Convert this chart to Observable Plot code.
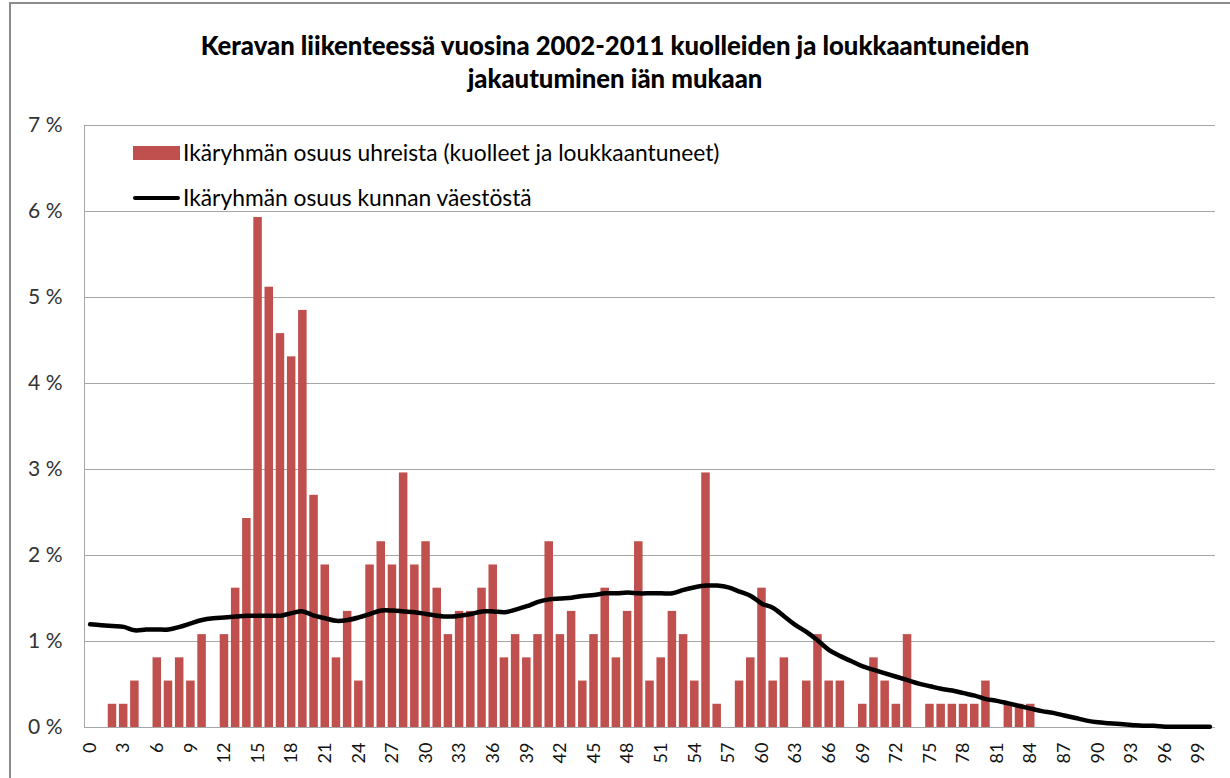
<!DOCTYPE html>
<html><head><meta charset="utf-8">
<script src="https://cdn.jsdelivr.net/npm/d3@7"></script>
<script src="https://cdn.jsdelivr.net/npm/@observablehq/plot@0.6"></script>
<style>
body{margin:0;background:#fff;width:1230px;height:778px;overflow:hidden;position:relative;font-family:Lato,"Open Sans",sans-serif;color:#000}
#border{position:absolute;left:9px;top:2px;width:1300px;height:900px;border-left:2px solid #8c8c8c;border-top:2px solid #8c8c8c}
#title{position:absolute;left:0;top:29px;width:1230px;text-align:center;font-weight:900;font-size:25.7px;line-height:33px;color:#000}
#chart{position:absolute;left:0;top:110px}
.sw{position:absolute;left:133px;width:47px}
.lt{position:absolute;left:183px;font-size:22.8px;line-height:26px;white-space:nowrap;color:#000}
</style></head>
<body>
<div id="border"></div>
<div id="title">Keravan liikenteessä vuosina 2002-2011 kuolleiden ja loukkaantuneiden<br>jakautuminen iän mukaan</div>
<div id="chart"></div>
<div class="sw" style="top:146px;height:14px;background:#C0504D"></div>
<div class="lt" style="top:139px">Ikäryhmän osuus uhreista (kuolleet ja loukkaantuneet)</div>
<div class="sw" style="top:196px;height:4px;background:#000;border-radius:2px"></div>
<div class="lt" style="top:184px">Ikäryhmän osuus kunnan väestöstä</div>
<script>
const ages = [0,1,2,3,4,5,6,7,8,9,10,11,12,13,14,15,16,17,18,19,20,21,22,23,24,25,26,27,28,29,30,31,32,33,34,35,36,37,38,39,40,41,42,43,44,45,46,47,48,49,50,51,52,53,54,55,56,57,58,59,60,61,62,63,64,65,66,67,68,69,70,71,72,73,74,75,76,77,78,79,80,81,82,83,84,85,86,87,88,89,90,91,92,93,94,95,96,97,98,99,100];

// Share of victims (killed and injured), %
const victimShare = [
  0,0,0.27,0.27,0.54,0,0.81,0.54,0.81,0.54,
  1.08,0,1.08,1.62,2.43,5.93,5.12,4.58,4.31,4.85,
  2.70,1.89,0.81,1.35,0.54,1.89,2.16,1.89,2.96,1.89,
  2.16,1.62,1.08,1.35,1.35,1.62,1.89,0.81,1.08,0.81,
  1.08,2.16,1.08,1.35,0.54,1.08,1.62,0.81,1.35,2.16,
  0.54,0.81,1.35,1.08,0.54,2.96,0.27,0,0.54,0.81,
  1.62,0.54,0.81,0,0.54,1.08,0.54,0.54,0,0.27,
  0.81,0.54,0.27,1.08,0,0.27,0.27,0.27,0.27,0.27,
  0.54,0,0.27,0.27,0.27,0,0,0,0,0,
  0,0,0,0,0,0,0,0,0,0,0];

// Share of municipal population, %
const populationShare = [
  1.20,1.19,1.18,1.17,1.13,1.14,1.14,1.14,1.17,1.21,
  1.25,1.27,1.28,1.29,1.30,1.30,1.30,1.30,1.33,1.35,
  1.30,1.27,1.24,1.25,1.28,1.32,1.36,1.36,1.35,1.34,
  1.32,1.30,1.29,1.30,1.32,1.35,1.35,1.34,1.37,1.41,
  1.46,1.49,1.50,1.51,1.53,1.54,1.56,1.56,1.57,1.56,
  1.56,1.56,1.56,1.60,1.63,1.65,1.65,1.63,1.58,1.53,
  1.44,1.39,1.29,1.19,1.11,1.01,0.90,0.83,0.77,0.71,
  0.67,0.63,0.59,0.55,0.51,0.48,0.45,0.43,0.40,0.37,
  0.33,0.31,0.28,0.25,0.22,0.19,0.17,0.14,0.11,0.08,
  0.06,0.05,0.04,0.03,0.02,0.02,0.01,0.01,0.01,0.01,0.01];

const xTicks = [0,3,6,9,12,15,18,21,24,27,30,33,36,39,42,45,48,51,54,57,60,63,66,69,72,75,78,81,84,87,90,93,96,99];
const yTicks = [0,1,2,3,4,5,6,7];

const rows = ages.map((a, i) => ({age: a, victims: victimShare[i], population: populationShare[i]}));

const chart = Plot.plot({
  width: 1230,
  height: 668,
  marginLeft: 84,
  marginRight: 15,
  marginTop: 15,
  marginBottom: 51,
  style: {fontFamily: "Lato, 'Open Sans', sans-serif", fontSize: "18px", color: "#111", background: "transparent"},
  x: {type: "band", domain: ages, paddingInner: 0.24, paddingOuter: 0.12, round: false},
  y: {domain: [0, 7]},
  marks: [
    Plot.gridY(yTicks, {stroke: "#a6a6a6", strokeOpacity: 1, strokeWidth: 1}),
    Plot.frame({anchor: "left", stroke: "#a6a6a6"}),
    Plot.barY(rows, {x: "age", y: "victims", fill: "#C0504D"}),
    Plot.lineY(rows, {x: "age", y: "population", stroke: "#000", strokeWidth: 4.5, curve: "catmull-rom"}),
    Plot.axisY(yTicks, {tickSize: 0, tickPadding: 22, tickFormat: d => d + " %", fontSize: 21, fill: "#333", label: null}),
    Plot.axisX(xTicks, {tickSize: 0, tickRotate: -90, tickPadding: 15, fontSize: 18, fill: "#111", label: null})
  ]
});
document.getElementById("chart").appendChild(chart);
</script>
</body></html>
